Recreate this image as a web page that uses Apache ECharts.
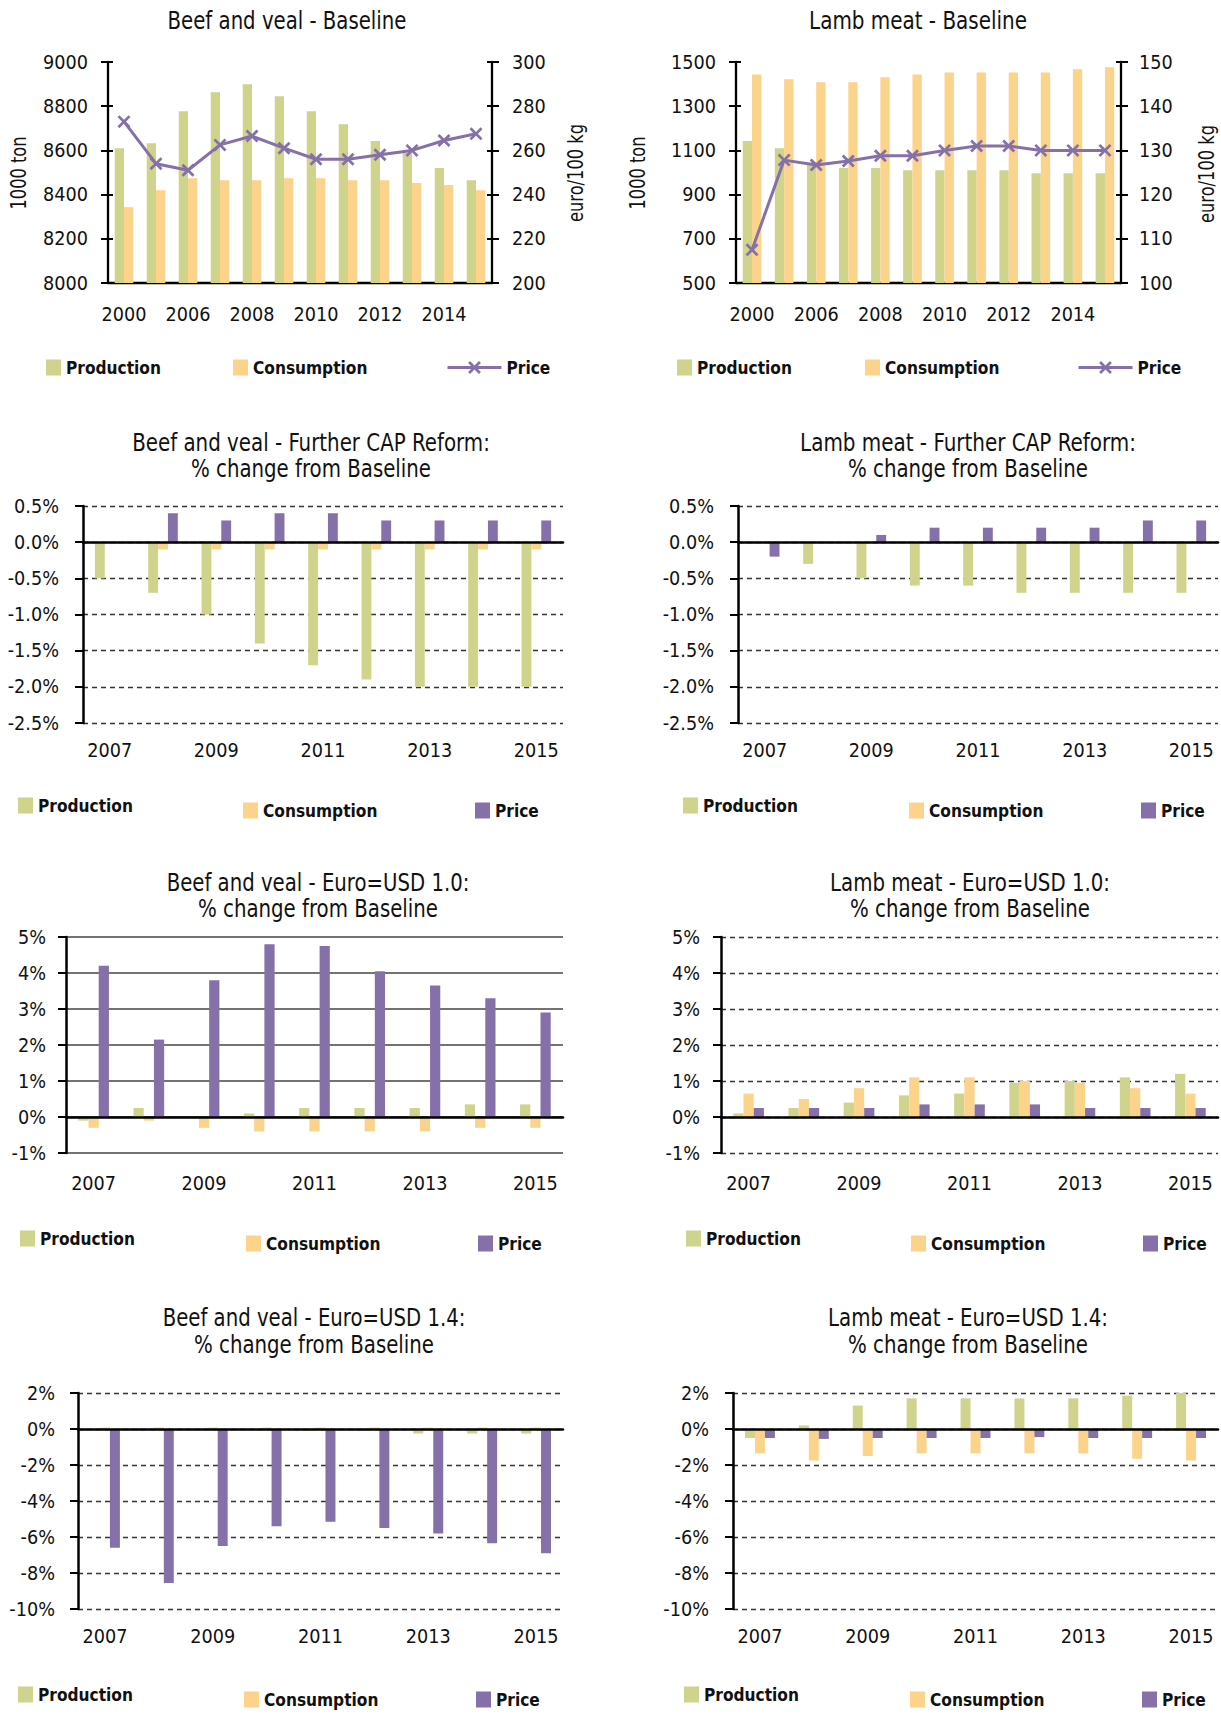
<!DOCTYPE html>
<html><head><meta charset="utf-8">
<script src="https://cdn.jsdelivr.net/npm/echarts@6/dist/echarts.min.js"></script>
<style>html,body{margin:0;padding:0;background:#fff}#c{width:1221px;height:1716px}</style>
</head><body><div id="c"></div><script>
// ---------------- DATA ----------------
const years12 = ['2000','2005','2006','2007','2008','2009','2010','2011','2012','2013','2014','2015'];
const years9 = ['2007','2008','2009','2010','2011','2012','2013','2014','2015'];

const beefBaseProd  = [8610, 8632, 8777, 8863, 8899, 8845, 8777, 8718, 8642, 8588, 8520, 8465];
const beefBaseCons  = [8343, 8420, 8474, 8465, 8465, 8474, 8474, 8465, 8465, 8452, 8443, 8420];
const beefBasePrice = [273, 254, 251, 262.5, 266.5, 261, 256, 256, 258, 260, 264.5, 267.5];

const lambBaseProd  = [1142, 1110, 1045, 1020, 1020, 1010, 1010, 1010, 1010, 997, 997, 997];
const lambBaseCons  = [1444, 1422, 1408, 1408, 1431, 1444, 1453, 1453, 1453, 1453, 1467, 1476];
const lambBasePrice = [107.5, 127.8, 126.7, 127.6, 128.8, 128.8, 130, 131, 131, 130, 130, 130];

const beefCapProd  = [-0.5, -0.7, -1.0, -1.4, -1.7, -1.9, -2.0, -2.0, -2.0];
const beefCapCons  = [0, -0.1, -0.1, -0.1, -0.1, -0.1, -0.1, -0.1, -0.1];
const beefCapPrice = [0, 0.4, 0.3, 0.4, 0.4, 0.3, 0.3, 0.3, 0.3];

const lambCapProd  = [0, -0.3, -0.5, -0.6, -0.6, -0.7, -0.7, -0.7, -0.7];
const lambCapCons  = [0, 0, 0, 0, 0, 0, 0, 0, 0];
const lambCapPrice = [-0.2, 0, 0.1, 0.2, 0.2, 0.2, 0.2, 0.3, 0.3];

const beefUsd10Prod  = [-0.1, 0.25, 0, 0.1, 0.25, 0.25, 0.25, 0.35, 0.35];
const beefUsd10Cons  = [-0.3, -0.1, -0.3, -0.4, -0.4, -0.4, -0.4, -0.3, -0.3];
const beefUsd10Price = [4.2, 2.15, 3.8, 4.8, 4.75, 4.05, 3.65, 3.3, 2.9];

const lambUsd10Prod  = [0.1, 0.25, 0.4, 0.6, 0.65, 0.95, 1.0, 1.1, 1.2];
const lambUsd10Cons  = [0.65, 0.5, 0.8, 1.1, 1.1, 1.0, 0.95, 0.8, 0.65];
const lambUsd10Price = [0.25, 0.25, 0.25, 0.35, 0.35, 0.35, 0.25, 0.25, 0.25];

const beefUsd14Prod  = [0, 0, 0, 0, -0.1, -0.1, -0.25, -0.25, -0.25];
const beefUsd14Cons  = [0.08, 0.08, 0.08, 0.08, 0.08, 0.08, 0.08, 0.08, 0.08];
const beefUsd14Price = [-6.6, -8.55, -6.5, -5.4, -5.15, -5.5, -5.8, -6.35, -6.9];

const lambUsd14Prod  = [-0.5, 0.2, 1.3, 1.7, 1.7, 1.7, 1.7, 1.85, 2.0];
const lambUsd14Cons  = [-1.35, -1.75, -1.5, -1.35, -1.35, -1.35, -1.35, -1.65, -1.75];
const lambUsd14Price = [-0.5, -0.55, -0.5, -0.5, -0.5, -0.45, -0.5, -0.5, -0.5];

const seriesNames = ['Production', 'Consumption', 'Price'];

// ---------------- STYLE ----------------
const GREEN = '#CFD38B', ORANGE = '#FCD38A', PURPLE = '#8670A9', INK = '#111';
const ctx = document.createElement('canvas').getContext('2d');
function avail(f) {
  const s = 'Production 2000 Wmi';
  for (const base of ['monospace', 'serif']) {
    ctx.font = '50px ' + base; const a = ctx.measureText(s).width;
    ctx.font = '50px "' + f + '", ' + base; if (Math.abs(ctx.measureText(s).width - a) > 0.5) return true;
  }
  return false;
}
const FAM = ['Liberation Sans Narrow', 'DejaVu Sans Condensed', 'Roboto Condensed', 'Liberation Sans'].find(avail) || 'sans-serif';
function measure(text, size, weight) { ctx.font = (weight || 'normal') + ' ' + size + 'px "' + FAM + '"'; return ctx.measureText(text).width; }
function fit(text, w, weight) { return 100 * w / measure(text, 100, weight); }
const AX = Math.min(22, fit('9000', 45));
const TSIZE = 24;
const LG = Math.min(22, fit('Production', 95, 'bold'));
const XSYM = 'path://M0,1.5 L1.5,0 L5,3.5 L8.5,0 L10,1.5 L6.5,5 L10,8.5 L8.5,10 L5,6.5 L1.5,10 L0,8.5 L3.5,5 Z';

const option = { animation: false, backgroundColor: '#fff', grid: [], xAxis: [], yAxis: [], series: [], legend: [], graphic: [] };

// text drawn with a given font size, squeezed horizontally to a target width (condensed look)
function txt(t, x, y, size, targetW, rot) {
  const w = measure(t, size);
  const sx = targetW ? Math.min(1, targetW / w) : 1;
  option.graphic.push({ type: 'text', x: x, y: y, rotation: rot || 0, scaleX: sx, silent: true,
    style: { text: t, x: 0, y: 0, align: 'center', verticalAlign: 'middle', fontSize: size, fontFamily: FAM, fill: INK } });
}
function legends(P, lineLegend) {
  const y = P.leg;
  seriesNames.forEach((n, i) => {
    const isLine = lineLegend && n === 'Price';
    option.legend.push({ data: [isLine ? { name: n } : { name: n, icon: 'rect' }], left: y[i][0], top: y[i][1] - 11,
      itemWidth: isLine ? 54 : 15, itemHeight: isLine ? 16 : 16, padding: 0, selectedMode: false,
      lineStyle: { width: 3, color: PURPLE },
      textStyle: { fontSize: LG, fontWeight: 'bold', fontFamily: FAM, color: INK } });
  });
}
const labStyle = { fontSize: AX, fontFamily: FAM, color: INK };

function basePanel(P, prod, cons, price, lAx, rAx) {
  const gi = option.grid.length; option.grid.push(P.g);
  const xi = option.xAxis.length;
  option.xAxis.push({ type: 'category', gridIndex: gi, data: years12, position: 'bottom',
    axisLine: { onZero: false, lineStyle: { color: '#000', width: 2.3 } },
    axisTick: { length: 7, lineStyle: { color: '#000', width: 2 } },
    axisLabel: Object.assign({ interval: 1, margin: P.xm }, labStyle), splitLine: { show: false } });
  option.xAxis.push({ type: 'category', gridIndex: gi, data: years12, position: 'bottom',
    axisLine: { show: false, onZero: false }, axisTick: { inside: true, length: 5, lineStyle: { color: '#000', width: 2 } },
    axisLabel: { show: false }, splitLine: { show: false } });
  const yi = option.yAxis.length;
  const mkY = (pos, ax, inner, margin) => ({ type: 'value', gridIndex: gi, position: pos, min: ax[0], max: ax[1], interval: ax[2],
    axisLine: { show: !inner, lineStyle: { color: '#000', width: 2.3 } },
    axisTick: { show: true, inside: inner, length: inner ? 5 : 7, lineStyle: { color: '#000', width: 2 } },
    axisLabel: Object.assign({ show: !inner, margin: margin || 8, formatter: v => String(v) }, labStyle), splitLine: { show: false } });
  option.yAxis.push(mkY('left', lAx, false, P.lm), mkY('right', rAx, false, P.rm), mkY('left', lAx, true), mkY('right', rAx, true));
  option.series.push(
    { type: 'bar', name: 'Production', xAxisIndex: xi, yAxisIndex: yi, data: prod, barWidth: '29%', barGap: '0%', itemStyle: { color: GREEN } },
    { type: 'bar', name: 'Consumption', xAxisIndex: xi, yAxisIndex: yi, data: cons, barWidth: '29%', barGap: '0%', itemStyle: { color: ORANGE } },
    { type: 'line', name: 'Price', xAxisIndex: xi, yAxisIndex: yi + 1, data: price, symbol: XSYM, symbolSize: 13, symbolKeepAspect: true,
      lineStyle: { color: PURPLE, width: 3 }, itemStyle: { color: PURPLE }, z: 5 });
  P.title.forEach((t, i) => txt(t, P.tx, P.ty[i], TSIZE, P.tw[i]));
  P.names.forEach(n => txt(n.t, n.x, n.y, 22, n.w, Math.PI / 2));
  legends(P, true);
}

function pctPanel(P, prod, cons, price, ax, dec) {
  const gi = option.grid.length; option.grid.push(P.g);
  const xi = option.xAxis.length;
  option.xAxis.push({ type: 'category', gridIndex: gi, data: years9, position: 'bottom', z: 4,
    axisLine: { onZero: true, lineStyle: { color: '#000', width: 2.5 } },
    axisTick: { length: 7, lineStyle: { color: '#000', width: 2 } }, axisLabel: { show: false }, splitLine: { show: false } });
  option.xAxis.push({ type: 'category', gridIndex: gi, data: years9, position: 'bottom',
    axisLine: { show: false, onZero: false }, axisTick: { show: false },
    axisLabel: Object.assign({ interval: 1, margin: P.xm }, labStyle), splitLine: { show: false } });
  const yi = option.yAxis.length;
  option.yAxis.push({ type: 'value', gridIndex: gi, min: ax[0], max: ax[1], interval: ax[2],
    axisLine: { show: true, lineStyle: { color: '#000', width: 2.5 } },
    axisTick: { show: true, length: 8, lineStyle: { color: '#000', width: 2 } },
    axisLabel: Object.assign({ margin: P.lm, formatter: v => v.toFixed(dec) + '%' }, labStyle),
    splitLine: { show: true, lineStyle: { type: P.solid ? 'solid' : [5, 4], color: P.solid ? '#444' : '#333', width: P.solid ? 1.5 : 1.3 } } });
  [[prod, 'Production', GREEN], [cons, 'Consumption', ORANGE], [price, 'Price', PURPLE]].forEach(s => {
    option.series.push({ type: 'bar', name: s[1], xAxisIndex: xi, yAxisIndex: yi, data: s[0], barWidth: '18.5%', barGap: '0%', itemStyle: { color: s[2] } });
  });
  P.title.forEach((t, i) => txt(t, P.tx, P.ty[i], TSIZE, P.tw[i]));
  legends(P, false);
}

// ---------------- LAYOUT ----------------
basePanel({ g: { left: 108, top: 62, width: 384, height: 221 }, title: ['Beef and veal - Baseline'], tw: [239], tx: 287, ty: [21], lm: 20, rm: 20, xm: 21,
  names: [{ t: '1000 ton', x: 18, y: 173, w: 73 }, { t: 'euro/100 kg', x: 575, y: 173, w: 98 }], leg: [[46, 370], [233, 370], [446, 370]] },
  beefBaseProd, beefBaseCons, beefBasePrice, [8000, 9000, 200], [200, 300, 20]);
basePanel({ g: { left: 736, top: 62, width: 385, height: 221 }, title: ['Lamb meat - Baseline'], tw: [218], tx: 918, ty: [21], lm: 20, rm: 18, xm: 21,
  names: [{ t: '1000 ton', x: 637, y: 173, w: 73 }, { t: 'euro/100 kg', x: 1206, y: 174, w: 98 }], leg: [[677, 370], [865, 370], [1077, 370]] },
  lambBaseProd, lambBaseCons, lambBasePrice, [500, 1500, 200], [100, 150, 10]);

pctPanel({ g: { left: 83, top: 506, width: 480, height: 217 }, title: ['Beef and veal - Further CAP Reform:', '% change from Baseline'], tw: [358, 240], tx: 311, ty: [443, 469],
  lm: 24, xm: 17, leg: [[18, 808], [243, 813], [475, 813]] }, beefCapProd, beefCapCons, beefCapPrice, [-2.5, 0.5, 0.5], 1);
pctPanel({ g: { left: 738, top: 506, width: 480, height: 217 }, title: ['Lamb meat - Further CAP Reform:', '% change from Baseline'], tw: [336, 240], tx: 968, ty: [443, 469],
  lm: 24, xm: 17, leg: [[683, 808], [909, 813], [1141, 813]] }, lambCapProd, lambCapCons, lambCapPrice, [-2.5, 0.5, 0.5], 1);

pctPanel({ g: { left: 66, top: 937, width: 497, height: 216 }, title: ['Beef and veal - Euro=USD 1.0:', '% change from Baseline'], tw: [303, 240], tx: 318, ty: [883, 909],
  lm: 20, xm: 20, solid: true, leg: [[20, 1241], [246, 1246], [478, 1246]] }, beefUsd10Prod, beefUsd10Cons, beefUsd10Price, [-1, 5, 1], 0);
pctPanel({ g: { left: 721, top: 937, width: 497, height: 216 }, title: ['Lamb meat - Euro=USD 1.0:', '% change from Baseline'], tw: [280, 240], tx: 970, ty: [883, 909],
  lm: 21, xm: 20, leg: [[686, 1241], [911, 1246], [1143, 1246]] }, lambUsd10Prod, lambUsd10Cons, lambUsd10Price, [-1, 5, 1], 0);

pctPanel({ g: { left: 78, top: 1393, width: 485, height: 216 }, title: ['Beef and veal - Euro=USD 1.4:', '% change from Baseline'], tw: [303, 240], tx: 314, ty: [1318, 1345],
  lm: 23, xm: 17, leg: [[18, 1697], [244, 1702], [476, 1702]] }, beefUsd14Prod, beefUsd14Cons, beefUsd14Price, [-10, 2, 2], 0);
pctPanel({ g: { left: 733, top: 1393, width: 485, height: 216 }, title: ['Lamb meat - Euro=USD 1.4:', '% change from Baseline'], tw: [280, 240], tx: 968, ty: [1318, 1345],
  lm: 24, xm: 17, leg: [[684, 1697], [910, 1702], [1142, 1702]] }, lambUsd14Prod, lambUsd14Cons, lambUsd14Price, [-10, 2, 2], 0);

const chart = echarts.init(document.getElementById('c'), null, { renderer: 'svg', width: 1221, height: 1716 });
chart.setOption(option);
</script></body></html>
